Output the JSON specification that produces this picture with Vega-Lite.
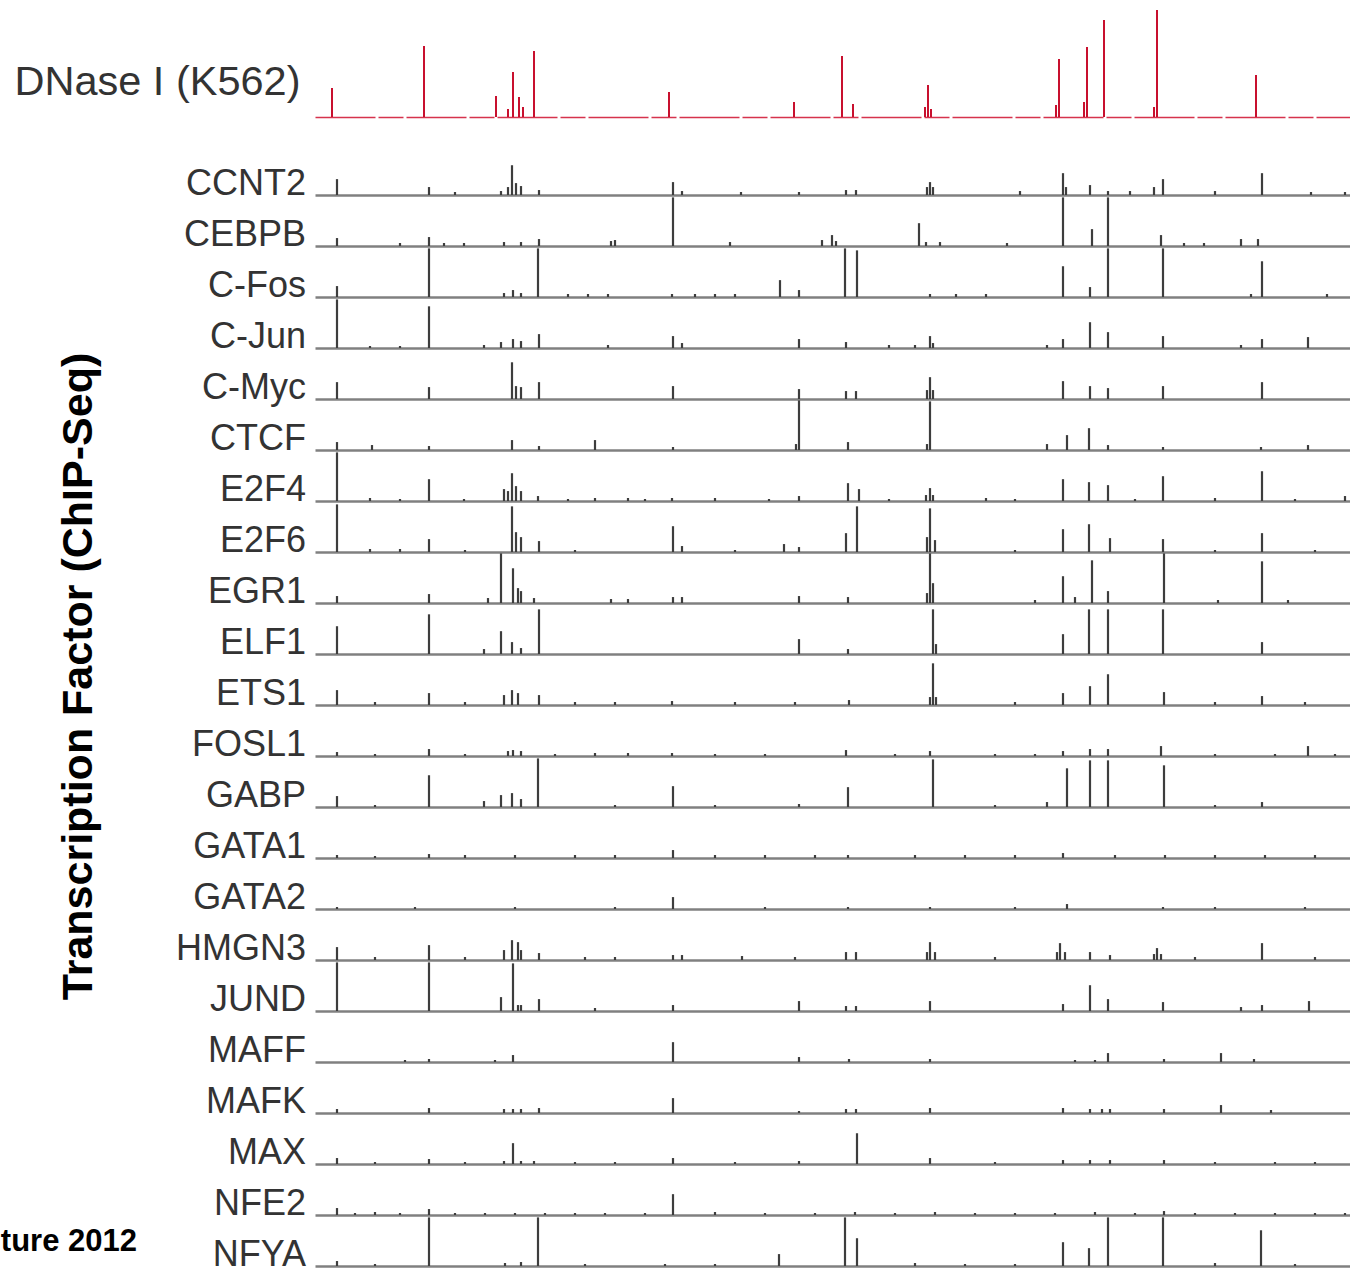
{
"$schema": "https://vega.github.io/schema/vega-lite/v6.json",
"padding": 0,
"background": "white",
"bounds": "flush",
"spacing": 27,
"config": {"view": {"stroke": null}, "font": "Liberation Sans"},
"title": {"text": "Transcription Factor (ChIP-Seq)", "orient": "left", "anchor": "middle", "frame": "bounds", "fontSize": 43, "fontWeight": "bold", "font": "Liberation Sans", "color": "black", "offset": -143, "dx": -40, "baseline": "bottom"},
"datasets": {
"dnase": [{"x":17,"h":29},{"x":109,"h":71},{"x":181,"h":21},{"x":193,"h":8},{"x":198,"h":45},{"x":204,"h":20},{"x":208,"h":10},{"x":219,"h":66},{"x":354,"h":25},{"x":479,"h":15},{"x":527,"h":61},{"x":538,"h":13},{"x":610,"h":10},{"x":613,"h":32},{"x":616,"h":8},{"x":741,"h":12},{"x":744,"h":58},{"x":769,"h":15},{"x":772,"h":70},{"x":789,"h":97},{"x":839,"h":10},{"x":842,"h":107},{"x":941,"h":42}],
"tf": [
{"t":"CCNT2","x":22,"h":16},{"t":"CCNT2","x":114,"h":8},{"t":"CCNT2","x":140,"h":3},{"t":"CCNT2","x":186,"h":4},{"t":"CCNT2","x":193,"h":8},{"t":"CCNT2","x":197,"h":30},{"t":"CCNT2","x":201,"h":12},{"t":"CCNT2","x":206,"h":9},{"t":"CCNT2","x":224,"h":5},{"t":"CCNT2","x":358,"h":13},{"t":"CCNT2","x":367,"h":4},{"t":"CCNT2","x":426,"h":3},{"t":"CCNT2","x":484,"h":3},{"t":"CCNT2","x":531,"h":5},{"t":"CCNT2","x":541,"h":5},{"t":"CCNT2","x":612,"h":8},{"t":"CCNT2","x":615,"h":13},{"t":"CCNT2","x":618,"h":8},{"t":"CCNT2","x":705,"h":4},{"t":"CCNT2","x":748,"h":22},{"t":"CCNT2","x":751,"h":8},{"t":"CCNT2","x":775,"h":10},{"t":"CCNT2","x":793,"h":4},{"t":"CCNT2","x":815,"h":4},{"t":"CCNT2","x":839,"h":8},{"t":"CCNT2","x":848,"h":16},{"t":"CCNT2","x":900,"h":4},{"t":"CCNT2","x":947,"h":22},{"t":"CCNT2","x":996,"h":3},{"t":"CCNT2","x":1030,"h":3},
{"t":"CEBPB","x":22,"h":8},{"t":"CEBPB","x":85,"h":3},{"t":"CEBPB","x":114,"h":9},{"t":"CEBPB","x":129,"h":3},{"t":"CEBPB","x":149,"h":3},{"t":"CEBPB","x":189,"h":4},{"t":"CEBPB","x":206,"h":4},{"t":"CEBPB","x":224,"h":7},{"t":"CEBPB","x":296,"h":5},{"t":"CEBPB","x":300,"h":6},{"t":"CEBPB","x":358,"h":49},{"t":"CEBPB","x":415,"h":4},{"t":"CEBPB","x":507,"h":6},{"t":"CEBPB","x":517,"h":11},{"t":"CEBPB","x":521,"h":5},{"t":"CEBPB","x":604,"h":23},{"t":"CEBPB","x":611,"h":4},{"t":"CEBPB","x":625,"h":4},{"t":"CEBPB","x":692,"h":3},{"t":"CEBPB","x":748,"h":49},{"t":"CEBPB","x":777,"h":17},{"t":"CEBPB","x":793,"h":49},{"t":"CEBPB","x":846,"h":11},{"t":"CEBPB","x":869,"h":3},{"t":"CEBPB","x":889,"h":3},{"t":"CEBPB","x":926,"h":7},{"t":"CEBPB","x":943,"h":7},
{"t":"C-Fos","x":22,"h":11},{"t":"C-Fos","x":114,"h":49},{"t":"C-Fos","x":189,"h":4},{"t":"C-Fos","x":198,"h":7},{"t":"C-Fos","x":206,"h":4},{"t":"C-Fos","x":223,"h":49},{"t":"C-Fos","x":253,"h":3},{"t":"C-Fos","x":273,"h":3},{"t":"C-Fos","x":293,"h":3},{"t":"C-Fos","x":357,"h":3},{"t":"C-Fos","x":380,"h":3},{"t":"C-Fos","x":400,"h":3},{"t":"C-Fos","x":420,"h":3},{"t":"C-Fos","x":465,"h":17},{"t":"C-Fos","x":484,"h":7},{"t":"C-Fos","x":530,"h":49},{"t":"C-Fos","x":542,"h":47},{"t":"C-Fos","x":615,"h":3},{"t":"C-Fos","x":641,"h":3},{"t":"C-Fos","x":671,"h":3},{"t":"C-Fos","x":748,"h":31},{"t":"C-Fos","x":775,"h":10},{"t":"C-Fos","x":793,"h":49},{"t":"C-Fos","x":848,"h":49},{"t":"C-Fos","x":936,"h":3},{"t":"C-Fos","x":947,"h":36},{"t":"C-Fos","x":1012,"h":3},
{"t":"C-Jun","x":22,"h":49},{"t":"C-Jun","x":55,"h":2},{"t":"C-Jun","x":85,"h":2},{"t":"C-Jun","x":114,"h":42},{"t":"C-Jun","x":169,"h":3},{"t":"C-Jun","x":186,"h":6},{"t":"C-Jun","x":198,"h":9},{"t":"C-Jun","x":206,"h":7},{"t":"C-Jun","x":224,"h":14},{"t":"C-Jun","x":293,"h":3},{"t":"C-Jun","x":358,"h":12},{"t":"C-Jun","x":367,"h":5},{"t":"C-Jun","x":484,"h":9},{"t":"C-Jun","x":531,"h":6},{"t":"C-Jun","x":574,"h":3},{"t":"C-Jun","x":600,"h":3},{"t":"C-Jun","x":615,"h":12},{"t":"C-Jun","x":618,"h":5},{"t":"C-Jun","x":732,"h":3},{"t":"C-Jun","x":748,"h":9},{"t":"C-Jun","x":775,"h":26},{"t":"C-Jun","x":793,"h":16},{"t":"C-Jun","x":848,"h":12},{"t":"C-Jun","x":926,"h":3},{"t":"C-Jun","x":947,"h":9},{"t":"C-Jun","x":993,"h":11},
{"t":"C-Myc","x":22,"h":17},{"t":"C-Myc","x":114,"h":12},{"t":"C-Myc","x":197,"h":37},{"t":"C-Myc","x":201,"h":13},{"t":"C-Myc","x":206,"h":12},{"t":"C-Myc","x":224,"h":17},{"t":"C-Myc","x":358,"h":13},{"t":"C-Myc","x":484,"h":10},{"t":"C-Myc","x":531,"h":8},{"t":"C-Myc","x":541,"h":8},{"t":"C-Myc","x":612,"h":9},{"t":"C-Myc","x":615,"h":22},{"t":"C-Myc","x":618,"h":9},{"t":"C-Myc","x":748,"h":18},{"t":"C-Myc","x":775,"h":13},{"t":"C-Myc","x":793,"h":11},{"t":"C-Myc","x":848,"h":13},{"t":"C-Myc","x":947,"h":17},
{"t":"CTCF","x":22,"h":8},{"t":"CTCF","x":57,"h":5},{"t":"CTCF","x":114,"h":4},{"t":"CTCF","x":197,"h":10},{"t":"CTCF","x":224,"h":4},{"t":"CTCF","x":280,"h":10},{"t":"CTCF","x":358,"h":3},{"t":"CTCF","x":481,"h":6},{"t":"CTCF","x":484,"h":50},{"t":"CTCF","x":533,"h":8},{"t":"CTCF","x":612,"h":6},{"t":"CTCF","x":615,"h":49},{"t":"CTCF","x":732,"h":6},{"t":"CTCF","x":752,"h":15},{"t":"CTCF","x":774,"h":22},{"t":"CTCF","x":793,"h":5},{"t":"CTCF","x":848,"h":3},{"t":"CTCF","x":946,"h":3},{"t":"CTCF","x":993,"h":5},
{"t":"E2F4","x":22,"h":49},{"t":"E2F4","x":55,"h":3},{"t":"E2F4","x":85,"h":2},{"t":"E2F4","x":114,"h":22},{"t":"E2F4","x":149,"h":2},{"t":"E2F4","x":189,"h":12},{"t":"E2F4","x":193,"h":10},{"t":"E2F4","x":197,"h":28},{"t":"E2F4","x":201,"h":15},{"t":"E2F4","x":206,"h":10},{"t":"E2F4","x":223,"h":5},{"t":"E2F4","x":253,"h":2},{"t":"E2F4","x":280,"h":3},{"t":"E2F4","x":313,"h":3},{"t":"E2F4","x":330,"h":2},{"t":"E2F4","x":357,"h":3},{"t":"E2F4","x":400,"h":3},{"t":"E2F4","x":454,"h":2},{"t":"E2F4","x":484,"h":5},{"t":"E2F4","x":533,"h":18},{"t":"E2F4","x":544,"h":12},{"t":"E2F4","x":574,"h":2},{"t":"E2F4","x":611,"h":6},{"t":"E2F4","x":615,"h":13},{"t":"E2F4","x":618,"h":6},{"t":"E2F4","x":671,"h":3},{"t":"E2F4","x":700,"h":2},{"t":"E2F4","x":748,"h":22},{"t":"E2F4","x":774,"h":19},{"t":"E2F4","x":793,"h":16},{"t":"E2F4","x":820,"h":2},{"t":"E2F4","x":848,"h":25},{"t":"E2F4","x":900,"h":3},{"t":"E2F4","x":947,"h":30},{"t":"E2F4","x":980,"h":2},{"t":"E2F4","x":1030,"h":5},
{"t":"E2F6","x":22,"h":48},{"t":"E2F6","x":55,"h":3},{"t":"E2F6","x":85,"h":3},{"t":"E2F6","x":114,"h":13},{"t":"E2F6","x":150,"h":2},{"t":"E2F6","x":197,"h":46},{"t":"E2F6","x":201,"h":20},{"t":"E2F6","x":206,"h":15},{"t":"E2F6","x":224,"h":11},{"t":"E2F6","x":260,"h":2},{"t":"E2F6","x":358,"h":26},{"t":"E2F6","x":367,"h":6},{"t":"E2F6","x":420,"h":2},{"t":"E2F6","x":469,"h":8},{"t":"E2F6","x":484,"h":5},{"t":"E2F6","x":531,"h":19},{"t":"E2F6","x":542,"h":46},{"t":"E2F6","x":612,"h":15},{"t":"E2F6","x":615,"h":44},{"t":"E2F6","x":620,"h":12},{"t":"E2F6","x":700,"h":2},{"t":"E2F6","x":748,"h":23},{"t":"E2F6","x":774,"h":28},{"t":"E2F6","x":795,"h":14},{"t":"E2F6","x":848,"h":13},{"t":"E2F6","x":900,"h":2},{"t":"E2F6","x":947,"h":19},{"t":"E2F6","x":1000,"h":2},
{"t":"EGR1","x":22,"h":7},{"t":"EGR1","x":114,"h":9},{"t":"EGR1","x":173,"h":5},{"t":"EGR1","x":186,"h":50},{"t":"EGR1","x":198,"h":35},{"t":"EGR1","x":203,"h":15},{"t":"EGR1","x":206,"h":12},{"t":"EGR1","x":219,"h":5},{"t":"EGR1","x":296,"h":4},{"t":"EGR1","x":313,"h":4},{"t":"EGR1","x":358,"h":6},{"t":"EGR1","x":367,"h":6},{"t":"EGR1","x":484,"h":7},{"t":"EGR1","x":533,"h":6},{"t":"EGR1","x":612,"h":10},{"t":"EGR1","x":615,"h":50},{"t":"EGR1","x":618,"h":20},{"t":"EGR1","x":720,"h":3},{"t":"EGR1","x":748,"h":27},{"t":"EGR1","x":760,"h":6},{"t":"EGR1","x":777,"h":43},{"t":"EGR1","x":793,"h":12},{"t":"EGR1","x":849,"h":50},{"t":"EGR1","x":903,"h":3},{"t":"EGR1","x":947,"h":42},{"t":"EGR1","x":973,"h":3},
{"t":"ELF1","x":22,"h":28},{"t":"ELF1","x":114,"h":40},{"t":"ELF1","x":169,"h":5},{"t":"ELF1","x":186,"h":23},{"t":"ELF1","x":197,"h":12},{"t":"ELF1","x":206,"h":6},{"t":"ELF1","x":224,"h":45},{"t":"ELF1","x":484,"h":15},{"t":"ELF1","x":533,"h":5},{"t":"ELF1","x":618,"h":45},{"t":"ELF1","x":621,"h":10},{"t":"ELF1","x":748,"h":20},{"t":"ELF1","x":774,"h":45},{"t":"ELF1","x":793,"h":45},{"t":"ELF1","x":848,"h":45},{"t":"ELF1","x":947,"h":12},
{"t":"ETS1","x":22,"h":15},{"t":"ETS1","x":60,"h":3},{"t":"ETS1","x":114,"h":12},{"t":"ETS1","x":150,"h":3},{"t":"ETS1","x":189,"h":10},{"t":"ETS1","x":197,"h":15},{"t":"ETS1","x":203,"h":12},{"t":"ETS1","x":224,"h":10},{"t":"ETS1","x":260,"h":3},{"t":"ETS1","x":300,"h":3},{"t":"ETS1","x":357,"h":4},{"t":"ETS1","x":420,"h":3},{"t":"ETS1","x":480,"h":3},{"t":"ETS1","x":534,"h":5},{"t":"ETS1","x":615,"h":8},{"t":"ETS1","x":618,"h":42},{"t":"ETS1","x":621,"h":8},{"t":"ETS1","x":700,"h":3},{"t":"ETS1","x":748,"h":12},{"t":"ETS1","x":775,"h":19},{"t":"ETS1","x":793,"h":31},{"t":"ETS1","x":849,"h":13},{"t":"ETS1","x":900,"h":3},{"t":"ETS1","x":947,"h":9},{"t":"ETS1","x":990,"h":3},
{"t":"FOSL1","x":22,"h":4},{"t":"FOSL1","x":60,"h":2},{"t":"FOSL1","x":114,"h":7},{"t":"FOSL1","x":150,"h":2},{"t":"FOSL1","x":193,"h":5},{"t":"FOSL1","x":198,"h":6},{"t":"FOSL1","x":206,"h":5},{"t":"FOSL1","x":240,"h":2},{"t":"FOSL1","x":280,"h":3},{"t":"FOSL1","x":313,"h":3},{"t":"FOSL1","x":357,"h":3},{"t":"FOSL1","x":400,"h":2},{"t":"FOSL1","x":450,"h":2},{"t":"FOSL1","x":531,"h":6},{"t":"FOSL1","x":580,"h":2},{"t":"FOSL1","x":615,"h":5},{"t":"FOSL1","x":680,"h":2},{"t":"FOSL1","x":720,"h":2},{"t":"FOSL1","x":748,"h":5},{"t":"FOSL1","x":775,"h":7},{"t":"FOSL1","x":793,"h":7},{"t":"FOSL1","x":846,"h":10},{"t":"FOSL1","x":900,"h":2},{"t":"FOSL1","x":960,"h":2},{"t":"FOSL1","x":993,"h":10},{"t":"FOSL1","x":1020,"h":2},
{"t":"GABP","x":22,"h":11},{"t":"GABP","x":60,"h":2},{"t":"GABP","x":114,"h":32},{"t":"GABP","x":169,"h":6},{"t":"GABP","x":186,"h":12},{"t":"GABP","x":197,"h":14},{"t":"GABP","x":206,"h":8},{"t":"GABP","x":223,"h":49},{"t":"GABP","x":300,"h":2},{"t":"GABP","x":358,"h":21},{"t":"GABP","x":400,"h":2},{"t":"GABP","x":484,"h":3},{"t":"GABP","x":533,"h":20},{"t":"GABP","x":618,"h":48},{"t":"GABP","x":680,"h":2},{"t":"GABP","x":732,"h":5},{"t":"GABP","x":752,"h":39},{"t":"GABP","x":775,"h":47},{"t":"GABP","x":793,"h":47},{"t":"GABP","x":849,"h":42},{"t":"GABP","x":900,"h":2},{"t":"GABP","x":947,"h":5},
{"t":"GATA1","x":22,"h":3},{"t":"GATA1","x":60,"h":2},{"t":"GATA1","x":114,"h":4},{"t":"GATA1","x":150,"h":3},{"t":"GATA1","x":200,"h":3},{"t":"GATA1","x":260,"h":3},{"t":"GATA1","x":300,"h":3},{"t":"GATA1","x":358,"h":8},{"t":"GATA1","x":400,"h":3},{"t":"GATA1","x":450,"h":3},{"t":"GATA1","x":500,"h":3},{"t":"GATA1","x":533,"h":3},{"t":"GATA1","x":600,"h":3},{"t":"GATA1","x":650,"h":3},{"t":"GATA1","x":700,"h":3},{"t":"GATA1","x":748,"h":5},{"t":"GATA1","x":800,"h":3},{"t":"GATA1","x":850,"h":3},{"t":"GATA1","x":900,"h":3},{"t":"GATA1","x":950,"h":3},{"t":"GATA1","x":1000,"h":3},
{"t":"GATA2","x":22,"h":2},{"t":"GATA2","x":100,"h":2},{"t":"GATA2","x":200,"h":2},{"t":"GATA2","x":300,"h":2},{"t":"GATA2","x":358,"h":12},{"t":"GATA2","x":450,"h":2},{"t":"GATA2","x":533,"h":2},{"t":"GATA2","x":615,"h":2},{"t":"GATA2","x":700,"h":2},{"t":"GATA2","x":752,"h":5},{"t":"GATA2","x":848,"h":2},{"t":"GATA2","x":900,"h":2},{"t":"GATA2","x":990,"h":2},
{"t":"HMGN3","x":22,"h":13},{"t":"HMGN3","x":60,"h":3},{"t":"HMGN3","x":114,"h":15},{"t":"HMGN3","x":150,"h":3},{"t":"HMGN3","x":189,"h":10},{"t":"HMGN3","x":197,"h":20},{"t":"HMGN3","x":203,"h":18},{"t":"HMGN3","x":206,"h":10},{"t":"HMGN3","x":224,"h":7},{"t":"HMGN3","x":270,"h":3},{"t":"HMGN3","x":300,"h":3},{"t":"HMGN3","x":358,"h":5},{"t":"HMGN3","x":367,"h":5},{"t":"HMGN3","x":427,"h":4},{"t":"HMGN3","x":480,"h":3},{"t":"HMGN3","x":531,"h":8},{"t":"HMGN3","x":541,"h":8},{"t":"HMGN3","x":612,"h":8},{"t":"HMGN3","x":615,"h":18},{"t":"HMGN3","x":620,"h":8},{"t":"HMGN3","x":680,"h":3},{"t":"HMGN3","x":742,"h":8},{"t":"HMGN3","x":745,"h":17},{"t":"HMGN3","x":750,"h":8},{"t":"HMGN3","x":775,"h":8},{"t":"HMGN3","x":795,"h":5},{"t":"HMGN3","x":839,"h":6},{"t":"HMGN3","x":842,"h":12},{"t":"HMGN3","x":846,"h":6},{"t":"HMGN3","x":880,"h":3},{"t":"HMGN3","x":947,"h":17},{"t":"HMGN3","x":1000,"h":3},
{"t":"JUND","x":22,"h":49},{"t":"JUND","x":114,"h":49},{"t":"JUND","x":186,"h":14},{"t":"JUND","x":198,"h":48},{"t":"JUND","x":203,"h":6},{"t":"JUND","x":206,"h":6},{"t":"JUND","x":224,"h":12},{"t":"JUND","x":280,"h":3},{"t":"JUND","x":358,"h":6},{"t":"JUND","x":484,"h":10},{"t":"JUND","x":531,"h":5},{"t":"JUND","x":541,"h":5},{"t":"JUND","x":615,"h":10},{"t":"JUND","x":748,"h":7},{"t":"JUND","x":775,"h":26},{"t":"JUND","x":793,"h":12},{"t":"JUND","x":848,"h":9},{"t":"JUND","x":926,"h":4},{"t":"JUND","x":947,"h":6},{"t":"JUND","x":994,"h":10},
{"t":"MAFF","x":90,"h":2},{"t":"MAFF","x":114,"h":3},{"t":"MAFF","x":180,"h":2},{"t":"MAFF","x":198,"h":7},{"t":"MAFF","x":358,"h":20},{"t":"MAFF","x":484,"h":5},{"t":"MAFF","x":534,"h":3},{"t":"MAFF","x":615,"h":3},{"t":"MAFF","x":760,"h":2},{"t":"MAFF","x":780,"h":2},{"t":"MAFF","x":793,"h":9},{"t":"MAFF","x":849,"h":3},{"t":"MAFF","x":906,"h":9},{"t":"MAFF","x":939,"h":3},
{"t":"MAFK","x":22,"h":4},{"t":"MAFK","x":114,"h":5},{"t":"MAFK","x":189,"h":4},{"t":"MAFK","x":198,"h":4},{"t":"MAFK","x":206,"h":4},{"t":"MAFK","x":224,"h":5},{"t":"MAFK","x":358,"h":15},{"t":"MAFK","x":484,"h":2},{"t":"MAFK","x":531,"h":4},{"t":"MAFK","x":541,"h":4},{"t":"MAFK","x":615,"h":5},{"t":"MAFK","x":748,"h":5},{"t":"MAFK","x":775,"h":4},{"t":"MAFK","x":787,"h":4},{"t":"MAFK","x":795,"h":4},{"t":"MAFK","x":849,"h":4},{"t":"MAFK","x":906,"h":8},{"t":"MAFK","x":956,"h":3},
{"t":"MAX","x":22,"h":6},{"t":"MAX","x":60,"h":2},{"t":"MAX","x":114,"h":5},{"t":"MAX","x":150,"h":2},{"t":"MAX","x":189,"h":3},{"t":"MAX","x":198,"h":21},{"t":"MAX","x":206,"h":3},{"t":"MAX","x":219,"h":3},{"t":"MAX","x":260,"h":2},{"t":"MAX","x":300,"h":2},{"t":"MAX","x":358,"h":6},{"t":"MAX","x":420,"h":2},{"t":"MAX","x":484,"h":3},{"t":"MAX","x":542,"h":31},{"t":"MAX","x":615,"h":6},{"t":"MAX","x":680,"h":2},{"t":"MAX","x":748,"h":4},{"t":"MAX","x":775,"h":4},{"t":"MAX","x":795,"h":4},{"t":"MAX","x":849,"h":4},{"t":"MAX","x":900,"h":2},{"t":"MAX","x":960,"h":2},{"t":"MAX","x":1000,"h":2},
{"t":"NFE2","x":22,"h":7},{"t":"NFE2","x":40,"h":2},{"t":"NFE2","x":60,"h":3},{"t":"NFE2","x":85,"h":2},{"t":"NFE2","x":114,"h":6},{"t":"NFE2","x":140,"h":2},{"t":"NFE2","x":170,"h":2},{"t":"NFE2","x":200,"h":2},{"t":"NFE2","x":230,"h":2},{"t":"NFE2","x":260,"h":2},{"t":"NFE2","x":290,"h":2},{"t":"NFE2","x":330,"h":2},{"t":"NFE2","x":358,"h":21},{"t":"NFE2","x":400,"h":3},{"t":"NFE2","x":450,"h":2},{"t":"NFE2","x":500,"h":2},{"t":"NFE2","x":540,"h":3},{"t":"NFE2","x":580,"h":2},{"t":"NFE2","x":620,"h":3},{"t":"NFE2","x":660,"h":2},{"t":"NFE2","x":700,"h":2},{"t":"NFE2","x":740,"h":2},{"t":"NFE2","x":780,"h":3},{"t":"NFE2","x":820,"h":2},{"t":"NFE2","x":849,"h":4},{"t":"NFE2","x":880,"h":2},{"t":"NFE2","x":920,"h":2},{"t":"NFE2","x":960,"h":2},{"t":"NFE2","x":1000,"h":2},{"t":"NFE2","x":1030,"h":2},
{"t":"NFYA","x":22,"h":5},{"t":"NFYA","x":60,"h":2},{"t":"NFYA","x":114,"h":49},{"t":"NFYA","x":190,"h":3},{"t":"NFYA","x":206,"h":4},{"t":"NFYA","x":223,"h":49},{"t":"NFYA","x":270,"h":2},{"t":"NFYA","x":350,"h":2},{"t":"NFYA","x":400,"h":2},{"t":"NFYA","x":464,"h":12},{"t":"NFYA","x":530,"h":49},{"t":"NFYA","x":542,"h":28},{"t":"NFYA","x":600,"h":3},{"t":"NFYA","x":650,"h":2},{"t":"NFYA","x":700,"h":2},{"t":"NFYA","x":748,"h":24},{"t":"NFYA","x":774,"h":18},{"t":"NFYA","x":793,"h":49},{"t":"NFYA","x":848,"h":49},{"t":"NFYA","x":900,"h":3},{"t":"NFYA","x":946,"h":36},{"t":"NFYA","x":980,"h":2}
]
},
"vconcat": [
{
"width": 1035,
"height": 117,
"data": {"name": "dnase"},
"mark": {"type": "rule", "color": "#c8102e", "strokeWidth": 2},
"encoding": {
  "x": {"field": "x", "type": "quantitative", "scale": {"domain": [0, 1035], "nice": false, "zero": false}, "axis": {"orient": "bottom", "labels": false, "ticks": false, "grid": false, "title": null, "domain": true, "domainColor": "#d6334d", "domainWidth": 1.6, "domainDash": [60, 3, 25, 3]}},
  "y": {"field": "h", "type": "quantitative", "scale": {"domain": [0, 117], "nice": false}, "axis": {"title": "DNase I (K562)", "titleAngle": 0, "titleAlign": "right", "titleBaseline": "alphabetic", "titleFontSize": 41.5, "titleFontWeight": "normal", "titleFont": "Liberation Sans", "titleColor": "#333333", "titleX": -15, "titleY": 94, "labels": false, "ticks": false, "domain": false, "grid": false}},
  "y2": {"datum": 0}
}
},
{
"data": {"name": "tf"},
"spacing": 0,
"bounds": "flush",
"facet": {"row": {"field": "t", "type": "nominal", "title": "ture 2012",
 "sort": ["CCNT2","CEBPB","C-Fos","C-Jun","C-Myc","CTCF","E2F4","E2F6","EGR1","ELF1","ETS1","FOSL1","GABP","GATA1","GATA2","HMGN3","JUND","MAFF","MAFK","MAX","NFE2","NFYA"],
 "header": {"labelAngle": 0, "labelAlign": "left", "labelBaseline": "alphabetic", "labelAnchor": "start", "labelFontSize": 36, "labelFont": "Liberation Sans", "labelColor": "#333333", "labelPadding": 9,
  "titleAngle": 0, "titleAnchor": "start", "titleAlign": "left", "titleBaseline": "line-bottom", "titleLineHeight": 50, "titleFontSize": 31, "titleFontWeight": "bold", "titleFont": "Liberation Sans", "titleColor": "black", "titlePadding": 28}}},
"resolve": {"axis": {"x": "independent"}},
"spec": {
 "width": 1035,
 "height": 51,
 "mark": {"type": "rule", "color": "#3d3d3d", "strokeWidth": 2.2},
 "encoding": {
  "x": {"field": "x", "type": "quantitative", "scale": {"domain": [0, 1035], "nice": false, "zero": false}, "axis": {"orient": "bottom", "labels": false, "ticks": false, "grid": false, "title": null, "domain": true, "domainColor": "#808080", "domainWidth": 2.5}},
  "y": {"field": "h", "type": "quantitative", "scale": {"domain": [0, 51.4], "nice": false}, "axis": null},
  "y2": {"datum": 0}
 }
}
}
]
}
